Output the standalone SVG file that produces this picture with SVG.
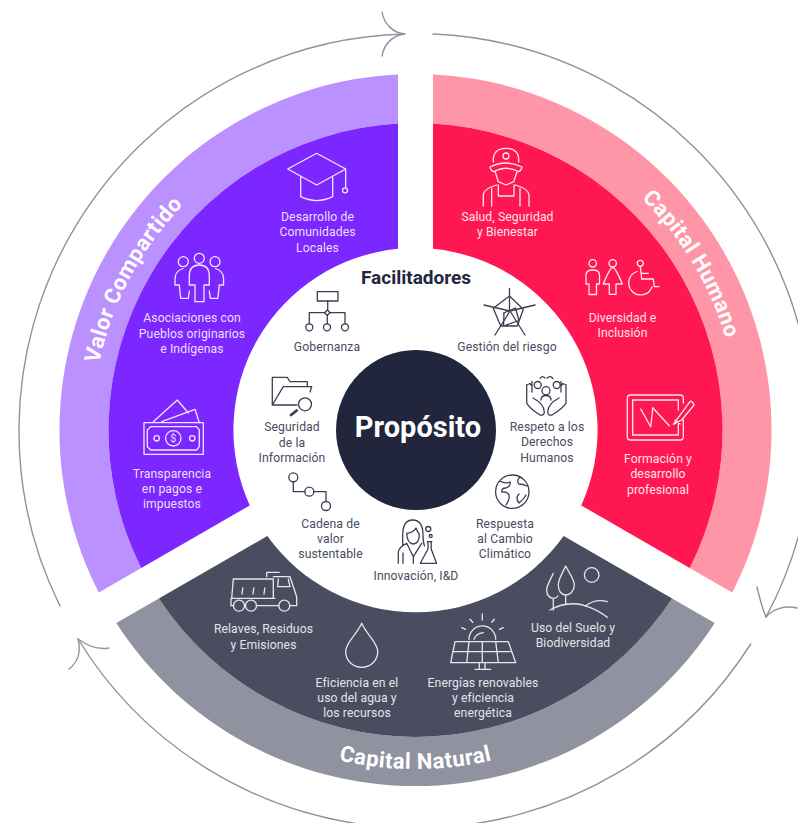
<svg xmlns="http://www.w3.org/2000/svg" width="798" height="823" viewBox="0 0 798 823">
<style>
text{font-family:Roboto,"Noto Sans","Liberation Sans",sans-serif;text-anchor:middle}
.l{font-size:12.2px;letter-spacing:.1px}
.lp{fill:#eadfff}.lr{fill:#ffe3e9}.ld{fill:#e4e4e9}.lw{fill:#4a4c5f}
.band{font-size:22px;font-weight:700;fill:#fff;letter-spacing:.5px}
.ic{fill:none;stroke-width:1.3;stroke-linecap:round;stroke-linejoin:round}
.iw{stroke:#f1e8ff}.ir{stroke:#ffe9ee}.id{stroke:#e8e8ec}.ik{stroke:#3a3e52}
.arr{fill:none;stroke:#9092a0;stroke-width:1.4;stroke-linecap:round}
</style>
<defs>
<path id="pV" d="M141.2 601.4A323.5 323.5 0 0 1 404.2 106.7"/>
<path id="pH" d="M415.5 106.5A323.5 323.5 0 0 1 701.1 581.9"/>
<path id="pN" d="M121.9 599.5A339 339 0 0 0 709.1 599.5"/>
</defs>
<rect width="798" height="823" fill="#fff"/>
<g id="connectors">
<path class="arr" d="M433 34A396.5 396.5 0 0 1 766 617"/>
<path class="arr" d="M757 587C760 600 763 610 766 617C773 609 785 605 797 608"/>
<path class="arr" d="M750.7 644A396.5 396.5 0 0 1 78 639"/>
<path class="arr" d="M109 648C99 650 88 646 78 639C81 651 78 662 69 669"/>
<path class="arr" d="M60 606A396.5 396.5 0 0 1 405 34"/>
<path class="arr" d="M382 12C384 24 393 33 405 34C393 35 384 44 382 56"/>
</g>
<g id="ring-valor">
<path fill="#bb90ff" d="M398 74.4A356 356 0 0 0 98.8 592.6L141.3 568.1A307 307 0 0 1 398 123.5Z"/>
<path fill="#7c27ff" d="M398 123.5A307 307 0 0 0 141.3 568.1L249.8 505.4A182 182 0 0 1 398 248.8Z"/>
<text class="band"><textPath href="#pV" startOffset="50%">Valor Compartido</textPath></text>
</g>
<g id="ring-humano">
<path fill="#ff96a8" d="M433 74.4A356 356 0 0 1 732.2 592.6L689.7 568.1A307 307 0 0 0 433 123.5Z"/>
<path fill="#ff1752" d="M433 123.5A307 307 0 0 1 689.7 568.1L581.2 505.4A182 182 0 0 0 433 248.8Z"/>
<text class="band"><textPath href="#pH" startOffset="50%">Capital Humano</textPath></text>
</g>
<g id="ring-natural">
<path fill="#9092a0" d="M116.3 623A356 356 0 0 0 714.7 623L672.15 598.4A307 307 0 0 1 158.85 598.4Z"/>
<path fill="#4a4c5f" d="M158.85 598.4A307 307 0 0 0 672.15 598.4L563.65 536A182 182 0 0 1 267.35 536Z"/>
<text class="band"><textPath href="#pN" startOffset="50%">Capital Natural</textPath></text>
</g>
<g id="proposito">
<circle cx="416" cy="430" r="80" fill="#21263d"/>
<text x="418" y="437" font-size="29" font-weight="700" fill="#fff">Propósito</text>
</g>
<text x="416" y="284" font-size="19" font-weight="700" fill="#21263d">Facilitadores</text>

<g id="desarrollo-comunidades">
<path class="ic iw" d="M287.7 169L316.7 153.3L345.7 169L316.7 185ZM300.7 176.7V196.7Q316.7 204.5 332.7 196.7V176.7M345.7 169V187.8"/>
<circle class="ic iw" cx="345" cy="190.3" r="2.5"/>
<text class="l lp" x="317.5" y="221">Desarrollo de</text><text class="l lp" x="317.5" y="236">Comunidades</text><text class="l lp" x="317.5" y="252">Locales</text>
</g>
<g id="asociaciones">
<circle class="ic iw" cx="199.3" cy="258.3" r="5"/><circle class="ic iw" cx="183.3" cy="261.7" r="5"/><circle class="ic iw" cx="215" cy="261.7" r="5"/>
<path class="ic iw" d="M195 285H189.3V276Q189.3 265 199.3 265Q209.3 265 209.3 276V285H204V301.7H195ZM183 268.5Q175 271 175 279V285H179.3L180.7 298.3H188.3L189.3 291M215.6 268.5Q223.6 271 223.6 279V285H219.3L217.9 298.3H210.3L209.3 291"/>
<text class="l lp" x="192" y="322">Asociaciones con</text><text class="l lp" x="192" y="337.5">Pueblos originarios</text><text class="l lp" x="192" y="353">e Indígenas</text>
</g>
<g id="transparencia">
<rect class="ic iw" x="144" y="422.7" width="59.3" height="31.6"/>
<path class="ic iw" d="M150.7 426.7H196.7L199.3 430V446.7L196.7 450H150.7L147.3 446.7V430ZM153.3 421.7L177.3 400L188.3 413M161.7 421.7L195 409.3L199.3 422.7"/>
<circle class="ic iw" cx="173.3" cy="438.3" r="7.7"/><circle class="ic iw" cx="156.7" cy="438.3" r="2.7"/><circle class="ic iw" cx="192.3" cy="438.3" r="2.7"/>
<text x="173.3" y="442" font-size="10" fill="#f1e8ff">$</text>
<text class="l lp" x="172" y="478">Transparencia</text><text class="l lp" x="172" y="493">en pagos e</text><text class="l lp" x="172" y="508">impuestos</text>
</g>
<g id="salud">
<circle class="ic ir" cx="506" cy="156" r="3"/>
<path class="ic ir" d="M493.3 162Q492.5 148.3 506 148.3Q519.5 148.3 518.7 162M490 167Q506 159 522 167Q521 171.5 518 171.5Q506 165 494 171.5Q491 171.5 490 167ZM495 171L498.3 181.7L506 185L513.7 181.7L517.3 171M483.3 206V195Q483.3 189 496.7 185M529 206V195Q529 189 515.3 185M491.7 206V188.3M520 206V188.3M498.3 185V196H514V185"/>
<text class="l lr" x="507.5" y="221">Salud, Seguridad</text><text class="l lr" x="507.5" y="236">y Bienestar</text>
</g>
<g id="diversidad">
<circle class="ic ir" cx="592.7" cy="263.3" r="3.7"/><circle class="ic ir" cx="612.7" cy="263.3" r="3.7"/><circle class="ic ir" cx="640.3" cy="263.3" r="3"/>
<path class="ic ir" d="M589 294.5V284H586V275Q586 270 592.7 270Q599.5 270 599.5 275V284H596.5V294.5ZM612.7 267.5Q610 267.5 603.3 284H609.3V294.3H616V284H622.3Q615.5 267.5 612.7 267.5ZM640.3 266.5L641.7 279H653.3L654.3 286.7H659M641.7 273.3H648.3M637 271.5A12 12 0 1 0 652 287"/>
<text class="l lr" x="622.5" y="322">Diversidad e</text><text class="l lr" x="622.5" y="337">Inclusión</text>
</g>
<g id="formacion">
<path class="ic ir" d="M683.3 403V398Q683.3 395 680 395H630.5Q627.3 395 627.3 398V437Q627.3 440 630.5 440H680Q683.3 440 683.3 437V420M678.3 410V400H632.7V435H678.3V424M640.7 409L650.7 426.7Q652.5 412 652.7 407.7L669.3 425.7M673.3 424.3L690 401.7Q692 400 694 405L681.7 420ZM675 420L680 424"/>
<text class="l lr" x="658" y="463">Formación y</text><text class="l lr" x="658" y="478">desarrollo</text><text class="l lr" x="658" y="494">profesional</text>
</g>
<g id="gobernanza">
<rect class="ic ik" x="317.3" y="291.7" width="20.7" height="9.3"/>
<path class="ic ik" d="M327.7 301V310M309.3 323.7V312.7H325M330 312.7H345V323.7M327.3 315V323.7"/>
<path class="ic ik" d="M327.3 310L330 312.7L327.3 315.4L324.6 312.7Z"/>
<circle class="ic ik" cx="309.3" cy="327.3" r="3.5"/><circle class="ic ik" cx="327" cy="327.3" r="3.5"/><circle class="ic ik" cx="345" cy="327.3" r="3.5"/>
<text class="l lw" x="327" y="351">Gobernanza</text>
</g>
<g id="gestion-riesgo">
<path class="ic ik" d="M509.5 288.3V310M535 305L510 311M484 305L510 311M525 335L510 311M495 335L510 311"/>
<path class="ic ik" d="M509.5 296L523.3 309.3L517.3 326H500.7L493.3 308.3ZM503.5 313L515.5 308L519 320.5L503.5 326L504 313"/>
<text class="l lw" x="507" y="351">Gestión del riesgo</text>
</g>
<g id="seguridad-informacion">
<path class="ic ik" d="M272.3 405V377.3H287.3L290 381.7H307.3V386.7M272.3 405L283.3 386.7H311.7L310 392M272.3 405H297"/>
<circle class="ic ik" cx="305" cy="404.3" r="6.5"/>
<path d="M296.7 410.5L291 415" fill="none" stroke="#3a3e52" stroke-width="2.8" stroke-linecap="round"/>
<text class="l lw" x="292" y="431">Seguridad</text><text class="l lw" x="292" y="446.5">de la</text><text class="l lw" x="292" y="461.5">Información</text>
</g>
<g id="respeto-derechos">
<circle class="ic ik" cx="546" cy="390.7" r="4"/><circle class="ic ik" cx="537.7" cy="385" r="3.5"/><circle class="ic ik" cx="556.7" cy="385" r="3.5"/>
<path class="ic ik" d="M541 400Q541 395.5 546 395.5Q551 395.5 551 400M540 378.5Q542 375 545 378M547 378Q550 375 553 378.5M532 392V381.5M561 392V381.5M526.7 385V403Q529 408 540 415Q544 416 544.3 412Q544.3 404 533 398M566 385V403Q563.5 408 552 415Q548 416 547.7 412Q547.7 404 559 398M526.7 385L530 383.5L532 386M566 385L563 383.5L561 386"/>
<text class="l lw" x="547" y="431">Respeto a los</text><text class="l lw" x="547" y="446">Derechos</text><text class="l lw" x="547" y="462">Humanos</text>
</g>
<g id="cadena-valor">
<circle class="ic ik" cx="293.3" cy="477.3" r="4.5"/><circle class="ic ik" cx="309.3" cy="491.7" r="4.5"/><circle class="ic ik" cx="326" cy="506" r="4.5"/>
<path class="ic ik" d="M293.3 481.8V491.7H304.8M313.8 491.7H326V501.5"/>
<text class="l lw" x="330.5" y="528">Cadena de</text><text class="l lw" x="330.5" y="543">valor</text><text class="l lw" x="330.5" y="557.5">sustentable</text>
</g>
<g id="respuesta-climatico">
<circle class="ic ik" cx="512.3" cy="491.7" r="16.7"/>
<path class="ic ik" d="M500 481Q505 484 510 482Q511 486 506 488Q501 488 502 492Q507 491 509 495Q510 499 506 505M520 477Q516 481 519 484Q523 484 527 486M519 494Q515 498 519 503Q524 499 526 495"/>
<text class="l lw" x="505" y="528">Respuesta</text><text class="l lw" x="505" y="543">al Cambio</text><text class="l lw" x="505" y="558">Climático</text>
</g>
<g id="innovacion">
<path class="ic ik" d="M402.7 546V535Q402.7 520 412.7 520Q423 520 423 535Q423 542 424.5 546M406.7 533.3Q413 533 416 528Q418 533 419.3 534Q419.5 543.5 413.3 544Q407 543.5 406.7 533.3ZM398.3 563.3V552Q399 547 406.7 543.3L413.3 556.7L421.7 543.3M413.3 556.7V563.3M403 553V563.3"/>
<path class="ic ik" d="M427.3 541.7H431.7M428 542V549L420.3 563.3H436.5L431.2 549V542"/>
<circle class="ic ik" cx="428.3" cy="529" r="2.5"/><circle class="ic ik" cx="430.7" cy="536" r="1.5"/>
<text class="l lw" x="416" y="580">Innovación, I&amp;D</text>
</g>
<g id="relaves">
<path class="ic id" d="M233.3 579H273.3M233.3 579L231.7 598.3H275M273.3 579V598.3M266.7 576.7V572.3H279.3M273.3 576.7H290L296.7 596.7V605.7H289.8M278.3 579L277.7 586.7H290L288.3 579M242.8 588L242 594M253.8 588L253 594M264.8 588L264 594M231 598.3V605.7H233.5M244.5 605.7H245.5M256.5 605.7H278.8"/>
<circle class="ic id" cx="239" cy="605.7" r="5.5"/><circle class="ic id" cx="251" cy="605.7" r="5.5"/><circle class="ic id" cx="284.3" cy="605.7" r="5.5"/>
<text class="l ld" x="263.5" y="633">Relaves, Residuos</text><text class="l ld" x="263.5" y="649">y Emisiones</text>
</g>
<g id="eficiencia-agua">
<path class="ic id" d="M361.7 623.3C356 636 345.7 642 345.7 651.5C345.7 660.5 352.7 667.3 361.7 667.3C370.7 667.3 377.7 660.5 377.7 651.5C377.7 642 367.4 636 361.7 623.3Z"/>
<text class="l ld" x="357" y="687">Eficiencia en el</text><text class="l ld" x="357" y="702">uso del agua y</text><text class="l ld" x="357" y="717">los recursos</text>
</g>
<g id="energias">
<path class="ic id" d="M455 641.7H508.3L515.7 662.7H450.7ZM453 651.7H511.5M482.3 641.7V662.7M469 641.7L466.7 662.7M495.7 641.7L498.3 662.7M479.3 662.7V669.3M485 662.7V669.3M475 669.3H490.7M469 639.3A13.3 13.3 0 0 1 495.7 639.3M474 639.3Q476 633.5 483.3 632.7M482.3 614V620M470 619.3L472.7 622.3M494.3 619.3L491.7 622.3M461.7 627.7L465.7 629.3M503.3 627.7L499.3 629.3"/>
<text class="l ld" x="483" y="687">Energías renovables</text><text class="l ld" x="483" y="702">y eficiencia</text><text class="l ld" x="483" y="717">energética</text>
</g>
<g id="uso-suelo">
<circle class="ic id" cx="591.7" cy="575" r="7.3"/>
<path class="ic id" d="M553.3 573.3C550 581 546.7 585 546.7 590C546.7 595 549.5 598.3 553.3 598.3C555 598.3 557 597.5 558 596M553.3 598.3V610M565.7 566C562 574 558.3 579 558.3 585C558.3 591 561.5 595 565.7 595C570 595 574.3 591 574.3 585C574.3 579 569.5 574 565.7 566ZM565.7 595V604M550 610Q566 601 583 605Q597 609 607.3 617.3M585 606Q596 598 607.3 601.7"/>
<text class="l ld" x="573" y="632">Uso del Suelo y</text><text class="l ld" x="573" y="647">Biodiversidad</text>
</g>
</svg>
